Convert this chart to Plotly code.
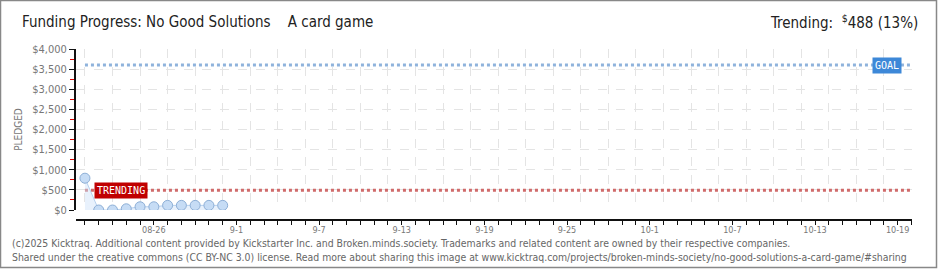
import plotly.graph_objects as go

dates = ["2025-08-21", "2025-08-22", "2025-08-23", "2025-08-24", "2025-08-25", "2025-08-26",
         "2025-08-27", "2025-08-28", "2025-08-29", "2025-08-30", "2025-08-31"]
pledged = [790, 0, 0, 30, 80, 80, 115, 115, 115, 115, 115]
goal = 3600
trending = 488
trending_pct = 13
x_start = "2025-08-20 08:24"
x_end = "2025-10-20 01:00"
line_start = "2025-08-21"
tick_vals = ["2025-08-26", "2025-09-01", "2025-09-07", "2025-09-13", "2025-09-19",
             "2025-09-25", "2025-10-01", "2025-10-07", "2025-10-13", "2025-10-19"]
tick_text = ["08-26", "9-1", "9-7", "9-13", "9-19", "9-25", "10-1", "10-7", "10-13", "10-19"]
y_vals = list(range(0, 4001, 500))
y_text = ["$" + format(v, ",") for v in y_vals]

W, H = 940, 270
ML, MR, MT, MB = 76, 28, 49, 50
PW, PH = W - ML - MR, H - MT - MB
FONT = "DejaVu Sans Condensed, DejaVu Sans, sans-serif"

fig = go.Figure()

# goal and trending lines
fig.add_trace(go.Scatter(x=[line_start, x_end], y=[goal, goal], mode="lines",
                         line=dict(color="#8fb3dc", width=3, dash="dot"),
                         hoverinfo="skip", showlegend=False))
fig.add_trace(go.Scatter(x=[line_start, x_end], y=[trending, trending], mode="lines",
                         line=dict(color="#d06a6a", width=3, dash="dot"),
                         hoverinfo="skip", showlegend=False))

fig.add_trace(go.Scatter(x=dates, y=pledged, mode="lines+markers", fill="tozeroy",
                         fillcolor="rgba(205,225,248,0.45)",
                         line=dict(color="#b5d0ee", width=1),
                         marker=dict(size=10, color="#c6dcf5", line=dict(color="#8eafd6", width=1)),
                         showlegend=False))

# grid overlay trace on xaxis2
fig.add_trace(go.Scatter(x=[x_start, x_end], y=[0, 0], xaxis="x2", yaxis="y",
                         mode="lines", line=dict(width=0), showlegend=False, hoverinfo="skip"))

fig.update_layout(
    width=W, height=H,
    margin=dict(l=ML, r=MR, t=MT, b=MB),
    paper_bgcolor="white", plot_bgcolor="white",
    font=dict(family=FONT, color="#555"),
    xaxis=dict(type="date", range=[x_start, x_end], anchor="free", position=0,
               tickmode="array", tickvals=tick_vals, ticktext=tick_text,
               tickfont=dict(size=9, color="#777"), ticklabelstandoff=-3,
               showgrid=False, zeroline=False,
               showline=True, linecolor="#111", linewidth=2,
               ticks="outside", ticklen=4, tickcolor="#111", tickwidth=1,
               minor=dict(dtick=86400000, tick0="2025-08-21", ticks="outside",
                          ticklen=4, tickcolor="#111", tickwidth=1, showgrid=False)),
    xaxis2=dict(type="date", range=[x_start, x_end], overlaying="x", anchor="y",
                tickmode="linear", tick0="2025-08-21", dtick=2 * 86400000,
                showgrid=True, gridcolor="#e4e4e4", griddash="dash", gridwidth=1,
                showticklabels=False, ticks="", showline=False, zeroline=False),
    yaxis=dict(range=[0, 4000], domain=[10 / PH, 1],
               tickmode="array", tickvals=y_vals, ticktext=y_text,
               tickfont=dict(size=11, color="#777"),
               showgrid=True, gridcolor="#e4e4e4", griddash="dash",
               zeroline=False, showline=True, linecolor="#111", linewidth=2,
               ticks="outside", ticklen=5, tickcolor="#111",
               minor=dict(dtick=250, tick0=250, ticks="outside", ticklen=4,
                          tickcolor="#dd0000", showgrid=False),
               title=dict(text="PLEDGED", font=dict(size=10, color="#777"), standoff=8)),
)

# whole-image border
fig.add_shape(type="rect", xref="paper", yref="paper",
              x0=(-ML + 0.5) / PW, x1=(W - ML - 3.5) / PW,
              y0=(-MB + 2.5) / PH, y1=(H - MB - 0.5) / PH,
              line=dict(color="#888", width=1.5), fillcolor="rgba(0,0,0,0)", layer="below")

# labels
fig.add_annotation(x="2025-08-23 14:00", y=trending, xref="x", yref="y", text="TRENDING",
                   showarrow=False, bgcolor="#c00000",
                   font=dict(color="white", size=10, family="DejaVu Sans Mono, monospace"),
                   borderpad=2, xanchor="center")
fig.add_annotation(x="2025-10-18 06:00", y=goal, xref="x", yref="y", text="GOAL",
                   showarrow=False, bgcolor="#3d88d8",
                   font=dict(color="white", size=10, family="DejaVu Sans Mono, monospace"),
                   borderpad=2, xanchor="center")

fig.add_annotation(x=(20 - ML) / PW, y=(H - MB - 22) / PH, xref="paper", yref="paper",
                   text="Funding Progress: No Good Solutions &nbsp;&nbsp; A card game",
                   showarrow=False, xanchor="left", yanchor="middle",
                   font=dict(size=15, color="#222", family=FONT))
fig.add_annotation(x=(W - ML - 20) / PW, y=(H - MB - 22) / PH, xref="paper", yref="paper",
                   text="Trending:  <sup>$</sup>%d (%d%%)" % (trending, trending_pct),
                   showarrow=False, xanchor="right", yanchor="middle",
                   font=dict(size=15, color="#222", family=FONT))
fig.add_annotation(x=(10 - ML) / PW, y=(H - MB - 243) / PH, xref="paper", yref="paper",
                   text="(c)2025 Kicktraq. Additional content provided by Kickstarter Inc. and Broken.minds.society. Trademarks and related content are owned by their respective companies.",
                   showarrow=False, xanchor="left", yanchor="middle",
                   font=dict(size=10.4, color="#666", family=FONT))
fig.add_annotation(x=(10 - ML) / PW, y=(H - MB - 257) / PH, xref="paper", yref="paper",
                   text="Shared under the creative commons (CC BY-NC 3.0) license. Read more about sharing this image at www.kicktraq.com/projects/broken-minds-society/no-good-solutions-a-card-game/#sharing",
                   showarrow=False, xanchor="left", yanchor="middle",
                   font=dict(size=10.4, color="#666", family=FONT))

fig.write_html("out.html")
